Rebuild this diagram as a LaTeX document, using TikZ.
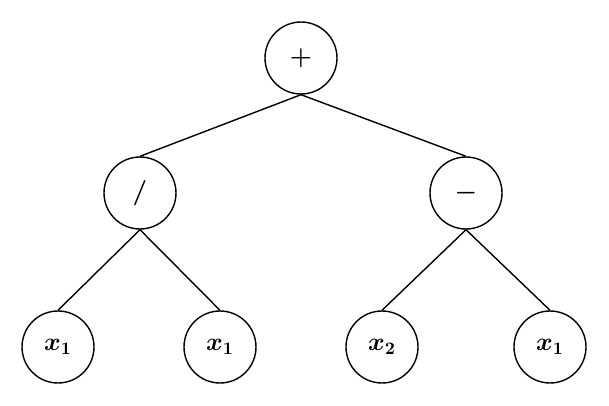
\documentclass[tikz,border=0pt]{standalone}
\usepackage{bm}
\usetikzlibrary{positioning}
\tikzset{%
    op/.style={circle, draw, line width=0.8pt, minimum size=14.4mm, inner sep=0pt, font=\Large},
    edge/.style={draw, line width=0.8pt}
}
\begin{document}
\begin{tikzpicture}
            \useasboundingbox (0, 0) rectangle (12.18, 8.1);

            % Root
            \node[op] (plus) at (6.02, 6.94) {$\bm{+}$};

            % Inner nodes
            \node[op] (div) at (2.8, 4.24) {$\bm{/}$};
            \node[op] (minus) at (9.32, 4.24) {$\bm{-}$};
            \draw [edge] (plus.south) -- (div.north) (plus.south) -- (minus.north);

            % Leaves
            \node[op] (xa) at (1.16, 1.16) {$\bm{x_1}$};
            \node[op] (xb) at (4.4, 1.16) {$\bm{x_1}$};
            \node[op] (xc) at (7.64, 1.16) {$\bm{x_2}$};
            \node[op] (xd) at (11.0, 1.16) {$\bm{x_1}$};
            \draw [edge] (div.south) -- (xa.north) (div.south) -- (xb.north);
            \draw [edge] (minus.south) -- (xc.north) (minus.south) -- (xd.north);
\end{tikzpicture}
\end{document}
